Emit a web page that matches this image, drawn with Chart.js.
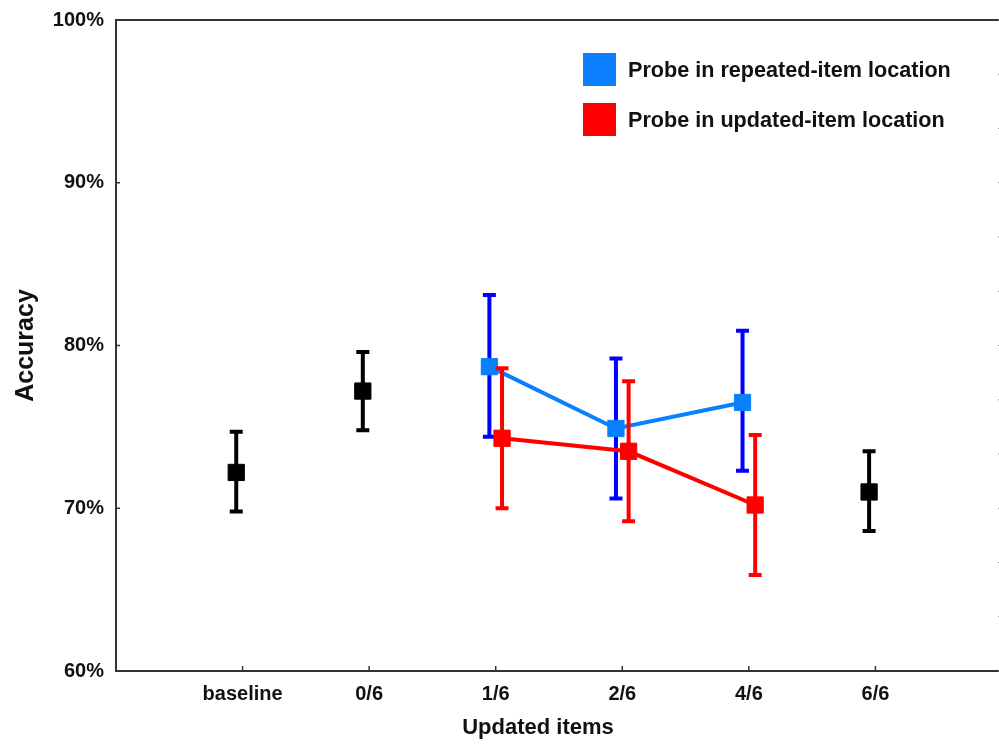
<!DOCTYPE html>
<html><head><meta charset="utf-8">
<script src="https://cdn.jsdelivr.net/npm/chart.js@4.4.1/dist/chart.umd.min.js"></script>
<style>
html,body{margin:0;padding:0;background:#fff;overflow:hidden;}
#wrap{position:relative;width:1004px;height:745px;}
#legend{position:absolute;left:583px;top:53px;font:bold 21.6px "Liberation Sans",Arial,sans-serif;color:#111;}
.item{display:flex;align-items:center;height:33px;margin-bottom:17px;white-space:nowrap;}
.sw{width:33px;height:33px;margin-right:12px;flex:none;}
</style></head><body>
<div id="wrap"><canvas id="c" width="1004" height="745"></canvas><div id="legend"></div></div>
<script>
// ---- data ----
const categories = ['baseline', '0/6', '1/6', '2/6', '4/6', '6/6'];
const yTickValues = [60, 70, 80, 90, 100];
const xAxisTitle = 'Updated items';
const yAxisTitle = 'Accuracy';

const controlMean = [72.2, 77.2, null, null, null, 71.0];
const controlLow  = [69.8, 74.8, null, null, null, 68.6];
const controlHigh = [74.7, 79.6, null, null, null, 73.5];

const repeatedLabel = 'Probe in repeated-item location';
const repeatedMean = [null, null, 78.7, 74.9, 76.5, null];
const repeatedLow  = [null, null, 74.4, 70.6, 72.3, null];
const repeatedHigh = [null, null, 83.1, 79.2, 80.9, null];

const updatedLabel = 'Probe in updated-item location';
const updatedMean = [null, null, 74.3, 73.5, 70.2, null];
const updatedLow  = [null, null, 70.0, 69.2, 65.9, null];
const updatedHigh = [null, null, 78.6, 77.8, 74.5, null];

// ---- helpers ----
function build(mean, low, high, shift) {
  const pts = [], lo = [], hi = [];
  mean.forEach((v, i) => {
    if (v === null) return;
    pts.push({x: i + shift, y: v});
    lo.push(low[i]); hi.push(high[i]);
  });
  return {pts, lo, hi};
}
const ctrl = build(controlMean, controlLow, controlHigh, -0.05);
const rep = build(repeatedMean, repeatedLow, repeatedHigh, -0.05);
const upd = build(updatedMean, updatedLow, updatedHigh, 0.05);

const FONT = '"Liberation Sans", Arial, sans-serif';
Chart.defaults.font.family = FONT;
Chart.defaults.color = '#111';

function noPad(s) { s.paddingTop = 0; s.paddingBottom = 0; s.paddingLeft = 0; s.paddingRight = 0; }

const errorBars = {
  id: 'errorBars',
  beforeDatasetDraw(chart, args) {
    const ds = chart.data.datasets[args.index];
    if (!ds.errLow) return;
    const ys = chart.scales.y, ctx = chart.ctx;
    ctx.save();
    ctx.strokeStyle = ds.errColor; ctx.lineWidth = 4; ctx.lineCap = 'butt';
    args.meta.data.forEach((pt, i) => {
      const x = pt.x;
      const yl = ys.getPixelForValue(ds.errLow[i]);
      const yh = ys.getPixelForValue(ds.errHigh[i]);
      ctx.beginPath();
      ctx.moveTo(x, yl); ctx.lineTo(x, yh);
      ctx.moveTo(x - 6.5, yl); ctx.lineTo(x + 6.5, yl);
      ctx.moveTo(x - 6.5, yh); ctx.lineTo(x + 6.5, yh);
      ctx.stroke();
    });
    ctx.restore();
  }
};

const frameAndTicks = {
  id: 'frameAndTicks',
  afterDatasetsDraw(chart) {
    const {ctx, chartArea: a, scales} = chart;
    ctx.save();
    ctx.strokeStyle = '#333'; ctx.lineWidth = 2;
    ctx.strokeRect(a.left, a.top, a.right - a.left, a.bottom - a.top);
    ctx.lineWidth = 1.5;
    scales.y.ticks.forEach(t => {
      const p = scales.y.getPixelForValue(t.value);
      ctx.beginPath(); ctx.moveTo(a.left, p); ctx.lineTo(a.left + 4, p); ctx.stroke();
    });
    scales.x.ticks.forEach(t => {
      if (!categories[t.value]) return;
      const p = scales.x.getPixelForValue(t.value);
      ctx.beginPath(); ctx.moveTo(p, a.bottom); ctx.lineTo(p, a.bottom - 5); ctx.stroke();
    });
    ctx.strokeStyle = '#999'; ctx.lineWidth = 1;
    scales.y2.ticks.forEach(t => {
      const p = scales.y2.getPixelForValue(t.value);
      ctx.beginPath(); ctx.moveTo(a.right, p); ctx.lineTo(a.right - 4, p); ctx.stroke();
    });
    ctx.restore();
  }
};

const xTitle = {
  id: 'xTitle',
  afterDraw(chart) {
    const {ctx, chartArea: a} = chart;
    ctx.save();
    ctx.font = 'bold 22px ' + FONT;
    ctx.fillStyle = '#111'; ctx.textAlign = 'center'; ctx.textBaseline = 'middle';
    ctx.fillText(xAxisTitle, (a.left + a.right) / 2 - 21, 728);
    ctx.restore();
  }
};

const chart = new Chart(document.getElementById('c'), {
  type: 'line',
  data: {
    datasets: [
      {
        label: updatedLabel, data: upd.pts, errLow: upd.lo, errHigh: upd.hi, errColor: '#ff0000',
        borderColor: '#ff0000', backgroundColor: '#ff0000', borderWidth: 4,
        pointStyle: 'rect', pointRadius: 11.5, pointBorderWidth: 1,
        pointBackgroundColor: '#ff0000', pointBorderColor: '#ff0000', order: 0
      },
      {
        label: repeatedLabel, data: rep.pts, errLow: rep.lo, errHigh: rep.hi, errColor: '#0000ff',
        borderColor: '#0a80ff', backgroundColor: '#0a80ff', borderWidth: 4,
        pointStyle: 'rect', pointRadius: 11.5, pointBorderWidth: 1,
        pointBackgroundColor: '#0a80ff', pointBorderColor: '#0a80ff', order: 1
      },
      {
        label: 'control', data: ctrl.pts, errLow: ctrl.lo, errHigh: ctrl.hi, errColor: '#000000',
        showLine: false, borderColor: '#000', backgroundColor: '#000',
        pointStyle: 'rect', pointRadius: 11.5, pointBorderWidth: 1,
        pointBackgroundColor: '#000', pointBorderColor: '#000', order: 2
      }
    ]
  },
  options: {
    responsive: false, animation: false, devicePixelRatio: 1,
    layout: {autoPadding: false, padding: {top: 20, right: 2, bottom: 0, left: 0}},
    plugins: {legend: {display: false}, tooltip: {enabled: false}},
    scales: {
      x: {
        type: 'linear', min: -1, max: categories.length,
        grid: {display: false}, border: {display: false},
        ticks: {
          stepSize: 1, autoSkip: false, maxRotation: 0, padding: 3,
          font: {size: 20, weight: 'bold'}, color: '#111',
          callback: v => categories[v] || ''
        },
        afterFit: s => { s.height = 74; noPad(s); }
      },
      y: {
        type: 'linear', min: yTickValues[0], max: yTickValues[yTickValues.length - 1],
        grid: {display: false, drawTicks: false}, border: {display: false},
        ticks: {stepSize: 10, padding: 12, font: {size: 20, weight: 'bold'}, color: '#111',
                callback: v => v + '%'},
        title: {display: true, text: yAxisTitle, font: {size: 25, weight: 'bold'}, color: '#111',
                padding: {top: 11, bottom: 0}},
        afterFit: s => { s.width = 116; noPad(s); }
      },
      y2: {
        type: 'linear', position: 'right', min: 0, max: 12,
        grid: {display: false}, border: {display: false},
        ticks: {display: false, stepSize: 1},
        afterFit: s => { s.width = 0; noPad(s); }
      }
    }
  },
  plugins: [errorBars, frameAndTicks, xTitle]
});

// HTML legend from dataset labels/colours
const legend = document.getElementById('legend');
chart.data.datasets.filter(d => d.showLine !== false).reverse().forEach(d => {
  const it = document.createElement('div'); it.className = 'item';
  const sw = document.createElement('div'); sw.className = 'sw'; sw.style.background = d.backgroundColor;
  const tx = document.createElement('span'); tx.textContent = d.label;
  it.appendChild(sw); it.appendChild(tx); legend.appendChild(it);
});
</script>
</body></html>
